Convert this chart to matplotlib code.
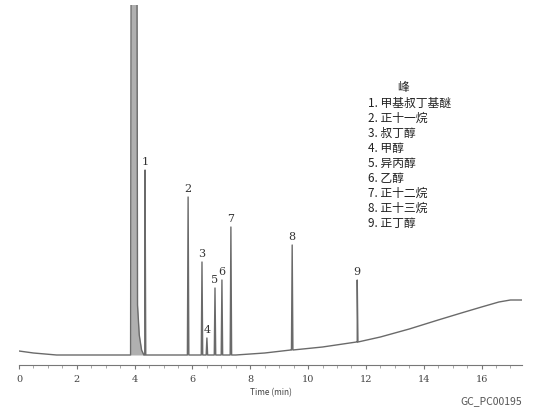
import numpy as np
import matplotlib.pyplot as plt
from matplotlib.ticker import MultipleLocator

plt.rcParams['font.family'] = ['Noto Sans CJK SC', 'DejaVu Sans']

# ===== Data (signal in arbitrary units, time in min) =====
base_t = [0.0, 0.5, 1.3, 3.8, 4.35, 7.5, 8.5, 9.4, 10.5, 11.7, 12.5, 13.5, 14.5, 15.3, 16.0, 16.6, 17.0, 17.4]
base_y = [14, 12, 10, 10, 10, 10, 12, 15, 18, 23, 28, 36, 45, 52, 58, 63, 65, 65]

peak_labels = ['1', '2', '3', '4', '5', '6', '7', '8', '9']
peak_t = [4.36, 5.85, 6.33, 6.50, 6.78, 7.02, 7.33, 9.45, 11.70]
peak_top = [195, 168, 103, 27, 77, 85, 138, 120, 85]
peak_base = [10, 10, 10, 10, 10, 10, 10, 15, 23]

# solvent peak (clipped at the top)
solvent_t = [3.86, 3.88, 4.08, 4.10, 4.16, 4.24, 4.32]
solvent_y = [10, 420, 420, 60, 30, 15, 10]

legend_title = '峰'
legend_items = ['1. 甲基叔丁基醚', '2. 正十一烷', '3. 叔丁醇', '4. 甲醇', '5. 异丙醇',
                '6. 乙醇', '7. 正十二烷', '8. 正十三烷', '9. 正丁醇']

# ===== Build trace =====
pts = list(zip(base_t, base_y)) + list(zip(solvent_t, solvent_y))
for t, top, b in zip(peak_t, peak_top, peak_base):
    pts += [(t - 0.025, b), (t, top), (t + 0.025, b)]
pts.sort(key=lambda p: p[0])
trace_t = [p[0] for p in pts]
trace_y = [p[1] for p in pts]

fig = plt.figure(figsize=(5.34, 4.12), dpi=100)
ax = fig.add_axes([19 / 534, 47 / 412, 503 / 534, 360 / 412])
ax.fill_between(solvent_t, 10, solvent_y, color='#b0b0b0', linewidth=0)
ax.plot(trace_t, trace_y, color='#6a6a6a', linewidth=1.0)
ax.set_xlim(0, 17.4)
ax.set_ylim(0, 360)

for lab, t, top in zip(peak_labels, peak_t, peak_top):
    ax.text(t, top + 3, lab, ha='center', va='bottom', fontsize=8, color='#333333',
            family='DejaVu Serif')

for s in ['top', 'right', 'left']:
    ax.spines[s].set_visible(False)
ax.spines['bottom'].set_color('#777777')
ax.set_yticks([])
ax.xaxis.set_major_locator(MultipleLocator(2))
ax.xaxis.set_minor_locator(MultipleLocator(0.5))
ax.tick_params(axis='x', which='major', length=3, color='#777777', labelsize=7,
               labelcolor='#444444', pad=4)
ax.tick_params(axis='x', which='minor', length=2, color='#999999')
for lbl in ax.get_xticklabels():
    lbl.set_family('DejaVu Serif')
ax.set_xlabel('Time (min)', fontsize=6, color='#444444', labelpad=3)

# legend text block
fig.text(397 / 534, 1 - 88 / 412, legend_title, fontsize=8.5, color='#222222',
         ha='left', va='center')
for i, item in enumerate(legend_items):
    fig.text(368 / 534, 1 - (103 + i * 15.1) / 412, item, fontsize=8.5,
             color='#222222', ha='left', va='center')

fig.text(522 / 534, 1 - 401 / 412, 'GC_PC00195', fontsize=7.5, color='#555555',
         ha='right', va='center')

fig.savefig('out.png', dpi=100)
